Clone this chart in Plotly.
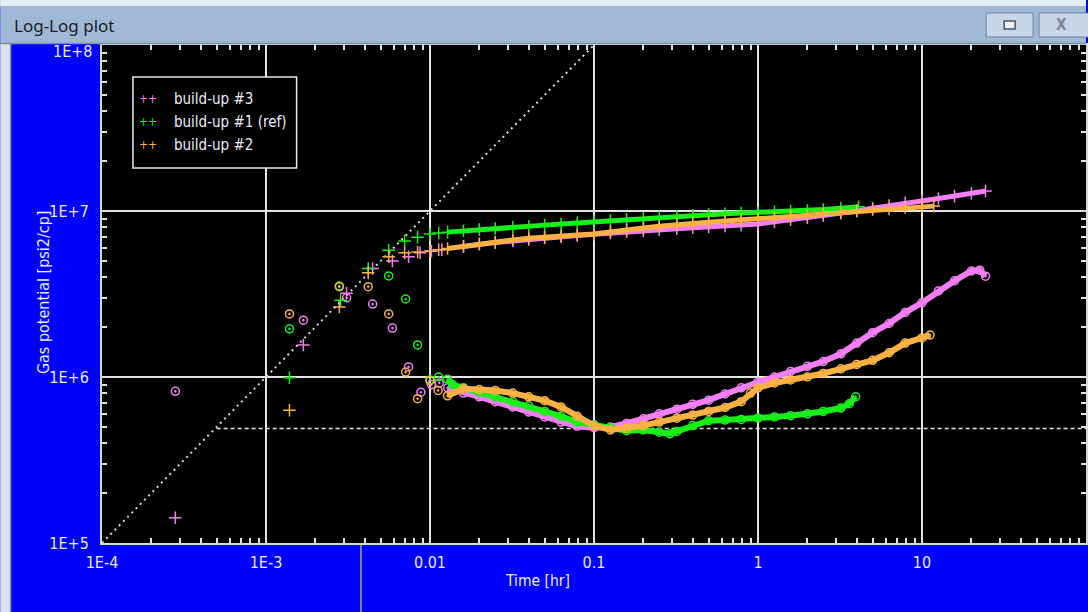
import plotly.graph_objects as go

# ---------------- data ----------------
# build-up #3 (violet)
bu3_t_dp = [0.00028, 0.00169, 0.0031, 0.00447, 0.0059, 0.0074, 0.0087, 0.0102, 0.0118, 0.016, 0.020,
            0.025, 0.032, 0.040, 0.050, 0.063, 0.079, 0.10, 0.126, 0.158, 0.20, 0.25, 0.32, 0.40,
            0.50, 0.63, 0.79, 1.0, 1.26, 1.58, 2.0, 2.5, 3.2, 4.0, 5.0, 6.3, 7.9, 10.0, 12.6,
            15.8, 20.0, 24.4]
bu3_dp = [1.42e5, 1.56e6, 3.2e6, 4.5e6, 5.0e6, 5.3e6, 5.6e6, 5.72e6, 5.85e6, 6.1e6, 6.3e6,
          6.45e6, 6.6e6, 6.75e6, 6.88e6, 7.0e6, 7.12e6, 7.25e6, 7.38e6, 7.5e6, 7.62e6, 7.72e6,
          7.82e6, 7.92e6, 8.02e6, 8.12e6, 8.24e6, 8.35e6, 8.6e6, 8.85e6, 9.1e6, 9.4e6, 9.7e6,
          1.0e7, 1.04e7, 1.08e7, 1.12e7, 1.15e7, 1.19e7, 1.23e7, 1.28e7, 1.32e7]
bu3_t_der = [0.00028, 0.00169, 0.0031, 0.00447, 0.0059, 0.0074, 0.0088, 0.0102, 0.0114, 0.0128,
             0.016, 0.020, 0.025, 0.032, 0.040, 0.050, 0.063, 0.079, 0.10, 0.126, 0.158, 0.20,
             0.25, 0.32, 0.40, 0.50, 0.63, 0.79, 1.0, 1.26, 1.58, 2.0, 2.5, 3.2, 4.0, 5.0, 6.3,
             7.9, 10.0, 12.6, 15.8, 20.0, 22.5, 24.4]
bu3_der = [8.2e5, 2.2e6, 3.0e6, 2.75e6, 1.97e6, 1.15e6, 8.1e5, 9.0e5, 9.2e5, 8.6e5,
           8.0e5, 7.6e5, 7.1e5, 6.6e5, 6.15e5, 5.75e5, 5.35e5, 5.05e5, 4.95e5, 5.0e5, 5.25e5,
           5.6e5, 6.0e5, 6.4e5, 6.85e5, 7.25e5, 7.9e5, 8.6e5, 9.3e5, 1.0e6, 1.08e6, 1.16e6,
           1.24e6, 1.38e6, 1.6e6, 1.85e6, 2.1e6, 2.45e6, 2.8e6, 3.3e6, 3.8e6, 4.35e6, 4.4e6, 4.05e6]

# build-up #1 (ref, green)
bu1_t_dp = [0.00139, 0.00285, 0.0042, 0.0056, 0.0070, 0.0084, 0.0100, 0.0113, 0.0128, 0.016,
            0.020, 0.025, 0.032, 0.040, 0.050, 0.063, 0.079, 0.10, 0.126, 0.158, 0.20, 0.25,
            0.32, 0.40, 0.50, 0.63, 0.79, 1.0, 1.26, 1.58, 2.0, 2.5, 3.2, 4.1]
bu1_dp = [9.9e5, 2.9e6, 4.5e6, 5.8e6, 6.6e6, 6.96e6, 7.26e6, 7.37e6, 7.46e6, 7.6e6, 7.72e6,
          7.85e6, 7.98e6, 8.1e6, 8.22e6, 8.35e6, 8.48e6, 8.6e6, 8.75e6, 8.9e6, 9.05e6, 9.18e6,
          9.3e6, 9.42e6, 9.52e6, 9.62e6, 9.72e6, 9.8e6, 9.9e6, 9.98e6, 1.005e7, 1.02e7, 1.04e7,
          1.06e7]
bu1_t_der = [0.00139, 0.0028, 0.0056, 0.0071, 0.0084, 0.0100, 0.0113, 0.0128, 0.0137, 0.016,
             0.020, 0.025, 0.032, 0.040, 0.050, 0.063, 0.079, 0.10, 0.126, 0.158, 0.20, 0.25,
             0.29, 0.32, 0.40, 0.50, 0.63, 0.79, 1.0, 1.26, 1.58, 2.0, 2.5, 3.2, 3.6, 3.94]
bu1_der = [1.95e6, 3.53e6, 4.06e6, 2.95e6, 1.56e6, 9.6e5, 1.0e6, 9.7e5, 9.0e5, 8.6e5, 8.1e5,
           7.6e5, 7.1e5, 6.7e5, 6.2e5, 5.8e5, 5.35e5, 5.15e5, 4.95e5, 4.75e5, 4.8e5, 4.65e5,
           4.55e5, 4.7e5, 5.1e5, 5.45e5, 5.5e5, 5.55e5, 5.66e5, 5.75e5, 5.85e5, 6.0e5, 6.2e5,
           6.5e5, 6.9e5, 7.6e5]

# build-up #2 (orange)
bu2_t_dp = [0.00139, 0.0028, 0.0042, 0.0056, 0.0070, 0.0084, 0.0100, 0.0113, 0.0128, 0.016,
            0.020, 0.025, 0.032, 0.040, 0.050, 0.063, 0.079, 0.10, 0.126, 0.158, 0.20, 0.25,
            0.32, 0.40, 0.50, 0.63, 0.79, 1.0, 1.26, 1.58, 2.0, 2.5, 3.2, 4.0, 5.0, 6.3, 7.9,
            10.0, 11.8]
bu2_dp = [6.3e5, 2.64e6, 4.24e6, 5.3e6, 5.6e6, 5.66e6, 5.74e6, 5.85e6, 5.95e6, 6.15e6, 6.35e6,
          6.5e6, 6.7e6, 6.85e6, 6.98e6, 7.08e6, 7.17e6, 7.26e6, 7.5e6, 7.7e6, 7.9e6, 8.1e6,
          8.3e6, 8.45e6, 8.55e6, 8.7e6, 8.85e6, 8.96e6, 9.1e6, 9.25e6, 9.4e6, 9.6e6, 9.8e6,
          1.0e7, 1.02e7, 1.03e7, 1.05e7, 1.06e7, 1.07e7]
bu2_t_der = [0.00139, 0.0028, 0.0042, 0.0056, 0.0071, 0.0084, 0.0100, 0.0112, 0.0128, 0.016,
             0.020, 0.025, 0.032, 0.040, 0.050, 0.063, 0.079, 0.10, 0.126, 0.158, 0.20, 0.25,
             0.32, 0.40, 0.50, 0.63, 0.79, 0.90, 1.0, 1.26, 1.58, 2.0, 2.5, 3.2, 4.0, 5.0, 6.3,
             7.9, 10.0, 11.2]
bu2_der = [2.4e6, 3.5e6, 3.5e6, 2.4e6, 1.07e6, 7.4e5, 9.5e5, 8.3e5, 7.7e5, 8.5e5, 8.4e5,
           8.3e5, 8.0e5, 7.6e5, 7.2e5, 6.6e5, 5.8e5, 5.1e5, 4.8e5, 4.9e5, 5.1e5, 5.35e5,
           5.65e5, 5.9e5, 6.2e5, 6.55e5, 7.1e5, 8.0e5, 8.6e5, 9.2e5, 9.6e5, 1.0e6, 1.05e6,
           1.12e6, 1.19e6, 1.26e6, 1.4e6, 1.6e6, 1.72e6, 1.79e6]

# reference lines
unit_slope_t = [1e-4, 0.1]
unit_slope_v = [1e5, 1e8]
stab_t = [5e-4, 100]
stab_v = [4.9e5, 4.9e5]

# axis ticks
x_tickvals = [1e-4, 1e-3, 1e-2, 1e-1, 1, 10, 100]
x_ticktext = ["1E-4", "1E-3", "0.01", "0.1", "1", "10", "100"]
y_tickvals = [1e5, 1e6, 1e7, 1e8]
y_ticktext = ["1E+5", "1E+6", "1E+7", "1E+8"]

series = [  # legend label, colour, (t_dp, dp), (t_der, der)
    ("build-up #3", "#f47ff4", (bu3_t_dp, bu3_dp), (bu3_t_der, bu3_der)),
    ("build-up #1 (ref)", "#19f019", (bu1_t_dp, bu1_dp), (bu1_t_der, bu1_der)),
    ("build-up #2", "#fcb243", (bu2_t_dp, bu2_dp), (bu2_t_der, bu2_der)),
]

# ---------------- layout geometry ----------------
W, H = 1088, 612
ML, MR, MT, MB = 102, 0, 45, 69
PW, PH = W - ML - MR, H - MT - MB
FONT = "DejaVu Sans Condensed, DejaVu Sans, sans-serif"
TXT = "#ecebff"
DENSE_FROM = 0.012


def px(x):
    return (x - ML) / PW


def py(y):
    return (H - MB - y) / PH


fig = go.Figure()

fig.add_trace(go.Scatter(x=unit_slope_t, y=unit_slope_v, mode="lines",
                         line=dict(color="#d8d8d8", width=2, dash="2px,4px"), hoverinfo="skip"))
fig.add_trace(go.Scatter(x=stab_t, y=stab_v, mode="lines",
                         line=dict(color="#e6e6e6", width=1.5, dash="4px,3px"), hoverinfo="skip"))

for name, col, (tp, vp), (td, vd) in series:
    # dense parts drawn as bands
    tp_d = [t for t in tp if t >= DENSE_FROM]
    vp_d = [v for t, v in zip(tp, vp) if t >= DENSE_FROM]
    td_d = [t for t in td if t >= DENSE_FROM]
    vd_d = [v for t, v in zip(td, vd) if t >= DENSE_FROM]
    fig.add_trace(go.Scatter(x=td_d, y=vd_d, mode="lines", line=dict(color=col, width=6),
                             hoverinfo="skip"))
    fig.add_trace(go.Scatter(x=td, y=vd, mode="markers", name=name,
                             marker=dict(symbol="circle-open-dot", size=8, color=col,
                                         line=dict(width=1.5, color=col))))
    fig.add_trace(go.Scatter(x=tp_d, y=vp_d, mode="lines", line=dict(color=col, width=5),
                             hoverinfo="skip"))
    fig.add_trace(go.Scatter(x=tp, y=vp, mode="markers", name=name,
                             marker=dict(symbol="cross-thin", size=9,
                                         line=dict(width=1.5, color=col))))

minor_x = [k * 10.0 ** d for d in range(-4, 2) for k in range(2, 10)]
minor_y = [k * 10.0 ** d for d in range(5, 8) for k in range(2, 10)]

axis_common = dict(type="log", showgrid=True, gridcolor="#e4e4e4", gridwidth=1.5,
                   showline=True, linecolor="#d8d8d8", linewidth=2, mirror="ticks",
                   ticks="inside", ticklen=6, tickcolor="#e0e0e0", tickwidth=1.5,
                   tickfont=dict(family=FONT, size=16, color=TXT), zeroline=False)

# the top label (1E+8) is drawn as an annotation a little lower, as in the reference
y_axis_text = y_ticktext[:-1] + [""]

fig.update_xaxes(range=[-4, 2], tickmode="array", tickvals=x_tickvals, ticktext=x_ticktext,
                 minor=dict(tickmode="array", tickvals=minor_x, ticks="inside", ticklen=5,
                            tickcolor="#e0e0e0", tickwidth=1.5, showgrid=False),
                 ticklabelstandoff=4, **axis_common)
fig.update_yaxes(range=[5, 8], tickmode="array", tickvals=y_tickvals, ticktext=y_axis_text,
                 minor=dict(tickmode="array", tickvals=minor_y, ticks="inside", ticklen=5,
                            tickcolor="#e0e0e0", tickwidth=1.5, showgrid=False),
                 ticklabelstandoff=8, **axis_common)

shapes = []
# window chrome
shapes.append(dict(type="rect", xref="paper", yref="paper", x0=px(0), x1=px(W), y0=py(0), y1=py(44),
                   fillcolor="#9fb8d5", line=dict(width=0), layer="above"))
shapes.append(dict(type="rect", xref="paper", yref="paper", x0=px(0), x1=px(W), y0=py(0), y1=py(6),
                   fillcolor="#e6ecf3", line=dict(width=0), layer="above"))
shapes.append(dict(type="line", xref="paper", yref="paper", x0=px(0), x1=px(W), y0=py(43.5), y1=py(43.5),
                   line=dict(color="#7f90a8", width=1.5), layer="above"))
shapes.append(dict(type="rect", xref="paper", yref="paper", x0=px(0), x1=px(10), y0=py(44), y1=py(H),
                   fillcolor="#dbe2ea", line=dict(width=0), layer="below"))
shapes.append(dict(type="line", xref="paper", yref="paper", x0=px(10.5), x1=px(10.5), y0=py(44), y1=py(H),
                   line=dict(color="#7a889c", width=1.5), layer="below"))
shapes.append(dict(type="line", xref="paper", yref="paper", x0=px(361.5), x1=px(361.5), y0=py(544), y1=py(H),
                   line=dict(color="#b3a574", width=1.5), layer="below"))
# title-bar buttons
shapes.append(dict(type="rect", xref="paper", yref="paper", x0=px(988), x1=px(1035), y0=py(13), y1=py(37),
                   fillcolor="#c7d6e8", line=dict(color="#6d84a3", width=1), layer="above"))
shapes.append(dict(type="rect", xref="paper", yref="paper", x0=px(1006), x1=px(1017), y0=py(21), y1=py(29),
                   fillcolor="#f0f0f0", line=dict(color="#4a5563", width=1.5), layer="above"))
shapes.append(dict(type="rect", xref="paper", yref="paper", x0=px(1041), x1=px(1092), y0=py(13), y1=py(37),
                   fillcolor="#c7d6e8", line=dict(color="#6d84a3", width=1), layer="above"))
# legend box
shapes.append(dict(type="rect", xref="paper", yref="paper", x0=px(133), x1=px(297), y0=py(77), y1=py(168),
                   fillcolor="black", line=dict(color="#e8e8e8", width=1.5), layer="above"))

annotations = []
annotations.append(dict(text="Log-Log plot", x=px(12), y=py(26), xref="paper", yref="paper",
                        xanchor="left", yanchor="middle", showarrow=False,
                        font=dict(family="Noto Sans, sans-serif", size=17, color="#1c1c28")))
annotations.append(dict(text="<b>X</b>", x=px(1063), y=py(25), xref="paper", yref="paper",
                        xanchor="center", yanchor="middle", showarrow=False,
                        font=dict(family=FONT, size=15, color="#7d8594")))
annotations.append(dict(text=y_ticktext[-1], x=px(94), y=py(52), xref="paper", yref="paper",
                        xanchor="right", yanchor="middle", showarrow=False,
                        font=dict(family=FONT, size=16, color=TXT)))
for i, (name, col, _, _) in enumerate(series):
    yy = 99 + 23 * i
    annotations.append(dict(text="++", x=px(137), y=py(yy), xref="paper", yref="paper",
                            xanchor="left", yanchor="middle", showarrow=False,
                            font=dict(family=FONT, size=12, color=col)))
    annotations.append(dict(text=name, x=px(172), y=py(yy), xref="paper", yref="paper",
                            xanchor="left", yanchor="middle", showarrow=False,
                            font=dict(family=FONT, size=15, color=TXT)))
annotations.append(dict(text="Time [hr]", x=px(538), y=py(581), xref="paper", yref="paper",
                        xanchor="center", yanchor="middle", showarrow=False,
                        font=dict(family=FONT, size=15.5, color=TXT)))
annotations.append(dict(text="Gas potential [psi2/cp]", x=px(43), y=py(292), xref="paper", yref="paper",
                        xanchor="center", yanchor="middle", showarrow=False, textangle=-90,
                        font=dict(family=FONT, size=16, color=TXT)))

fig.update_layout(width=W, height=H, margin=dict(l=ML, r=MR, t=MT, b=MB, pad=0),
                  paper_bgcolor="#0000fe", plot_bgcolor="black", showlegend=False,
                  shapes=shapes, annotations=annotations)

fig.write_html("out.html")
